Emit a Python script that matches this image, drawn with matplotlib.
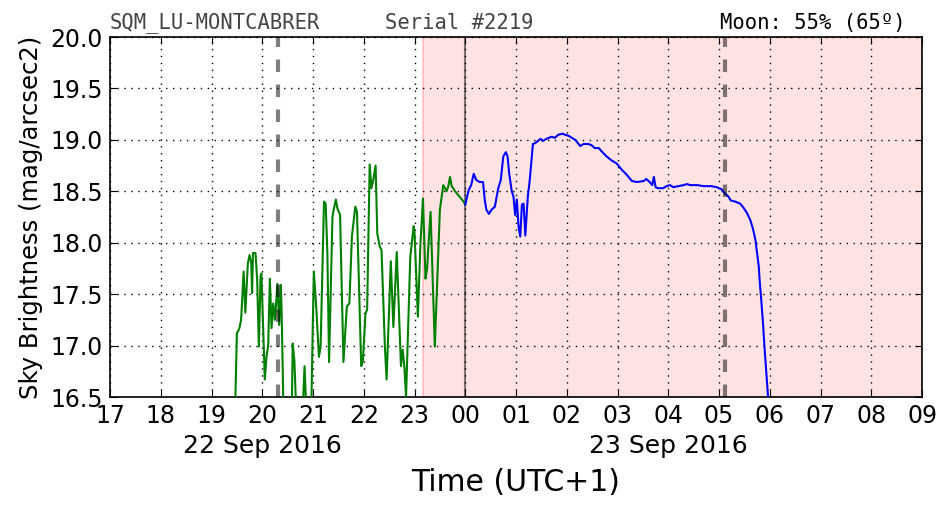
import matplotlib
matplotlib.use("Agg")
import matplotlib.pyplot as plt
import matplotlib.dates as mdates
import pandas as pd

# ---------------- data ----------------
green_times = [
    "2016-09-22 19:28", "2016-09-22 19:30", "2016-09-22 19:32", "2016-09-22 19:33", "2016-09-22 19:35",
    "2016-09-22 19:38", "2016-09-22 19:40", "2016-09-22 19:43", "2016-09-22 19:45", "2016-09-22 19:47",
    "2016-09-22 19:48", "2016-09-22 19:49", "2016-09-22 19:52", "2016-09-22 19:54", "2016-09-22 19:56",
    "2016-09-22 19:58", "2016-09-22 19:59", "2016-09-22 20:00", "2016-09-22 20:03", "2016-09-22 20:05",
    "2016-09-22 20:07", "2016-09-22 20:09", "2016-09-22 20:11", "2016-09-22 20:13", "2016-09-22 20:15",
    "2016-09-22 20:18", "2016-09-22 20:20", "2016-09-22 20:22", "2016-09-22 20:23", "2016-09-22 20:25",
    "2016-09-22 20:35", "2016-09-22 20:36", "2016-09-22 20:38", "2016-09-22 20:40", "2016-09-22 20:48",
    "2016-09-22 20:50", "2016-09-22 20:52", "2016-09-22 20:58", "2016-09-22 21:00", "2016-09-22 21:01",
    "2016-09-22 21:04", "2016-09-22 21:07", "2016-09-22 21:09", "2016-09-22 21:13", "2016-09-22 21:15",
    "2016-09-22 21:17", "2016-09-22 21:19", "2016-09-22 21:23", "2016-09-22 21:24", "2016-09-22 21:27",
    "2016-09-22 21:29", "2016-09-22 21:32", "2016-09-22 21:36", "2016-09-22 21:40", "2016-09-22 21:43",
    "2016-09-22 21:46", "2016-09-22 21:50", "2016-09-22 21:52", "2016-09-22 21:57", "2016-09-22 21:59",
    "2016-09-22 22:02", "2016-09-22 22:04", "2016-09-22 22:07", "2016-09-22 22:09", "2016-09-22 22:11",
    "2016-09-22 22:14", "2016-09-22 22:16", "2016-09-22 22:19", "2016-09-22 22:21", "2016-09-22 22:25",
    "2016-09-22 22:27", "2016-09-22 22:32", "2016-09-22 22:35", "2016-09-22 22:39", "2016-09-22 22:44",
    "2016-09-22 22:46", "2016-09-22 22:48", "2016-09-22 22:50", "2016-09-22 22:55", "2016-09-22 22:59",
    "2016-09-22 23:00", "2016-09-22 23:04", "2016-09-22 23:07", "2016-09-22 23:10", "2016-09-22 23:13",
    "2016-09-22 23:15", "2016-09-22 23:16", "2016-09-22 23:19", "2016-09-22 23:24", "2016-09-22 23:30",
    "2016-09-22 23:34", "2016-09-22 23:38", "2016-09-22 23:40", "2016-09-22 23:42", "2016-09-22 23:44",
    "2016-09-22 23:48", "2016-09-22 23:52", "2016-09-22 23:58", "2016-09-23 00:00",
]
green_mag = [
    16.40, 17.12, 17.15, 17.17, 17.25,
    17.72, 17.32, 17.80, 17.88, 17.80,
    17.51, 17.90, 17.90, 17.64, 16.99,
    17.67, 17.70, 17.45, 16.67, 16.89,
    17.00, 17.65, 17.17, 17.41, 17.25,
    17.60, 17.20, 17.59, 17.30, 16.40,
    16.40, 17.02, 16.85, 16.40, 16.40,
    16.80, 16.40, 16.40, 17.30, 17.72,
    17.35, 16.89, 16.99, 18.40, 18.38,
    17.90, 16.84, 18.25, 18.30, 18.42,
    18.33, 18.27, 16.84, 17.38, 17.41,
    18.06, 18.35, 18.30, 16.80, 16.85,
    17.31, 17.35, 18.76, 18.53, 18.60,
    18.75, 18.09, 17.96, 17.93, 16.99,
    16.67, 17.82, 17.18, 17.91, 16.80,
    16.96, 16.80, 16.50, 17.86, 18.16,
    18.10, 17.28, 17.99, 18.43, 17.65,
    17.75, 17.91, 18.30, 16.99, 18.32,
    18.56, 18.50, 18.55, 18.64, 18.55,
    18.50, 18.46, 18.40, 18.37,
]

blue_times = [
    "2016-09-23 00:00", "2016-09-23 00:04", "2016-09-23 00:07", "2016-09-23 00:10", "2016-09-23 00:13",
    "2016-09-23 00:17", "2016-09-23 00:21", "2016-09-23 00:23", "2016-09-23 00:25", "2016-09-23 00:28",
    "2016-09-23 00:31", "2016-09-23 00:35", "2016-09-23 00:39", "2016-09-23 00:42", "2016-09-23 00:45",
    "2016-09-23 00:48", "2016-09-23 00:50", "2016-09-23 00:52", "2016-09-23 00:55", "2016-09-23 00:57",
    "2016-09-23 00:59", "2016-09-23 01:01", "2016-09-23 01:03", "2016-09-23 01:05", "2016-09-23 01:07",
    "2016-09-23 01:09", "2016-09-23 01:11", "2016-09-23 01:14", "2016-09-23 01:16", "2016-09-23 01:18",
    "2016-09-23 01:20", "2016-09-23 01:23", "2016-09-23 01:26", "2016-09-23 01:29", "2016-09-23 01:32",
    "2016-09-23 01:36", "2016-09-23 01:42", "2016-09-23 01:46", "2016-09-23 01:50", "2016-09-23 01:55",
    "2016-09-23 01:58", "2016-09-23 02:02", "2016-09-23 02:06", "2016-09-23 02:10", "2016-09-23 02:14",
    "2016-09-23 02:16", "2016-09-23 02:20", "2016-09-23 02:25", "2016-09-23 02:29", "2016-09-23 02:33",
    "2016-09-23 02:38", "2016-09-23 02:41", "2016-09-23 02:47", "2016-09-23 02:53", "2016-09-23 02:59",
    "2016-09-23 03:05", "2016-09-23 03:11", "2016-09-23 03:17", "2016-09-23 03:23", "2016-09-23 03:31",
    "2016-09-23 03:34", "2016-09-23 03:38", "2016-09-23 03:41", "2016-09-23 03:43", "2016-09-23 03:45",
    "2016-09-23 03:48", "2016-09-23 03:54", "2016-09-23 03:58", "2016-09-23 04:02", "2016-09-23 04:06",
    "2016-09-23 04:12", "2016-09-23 04:18", "2016-09-23 04:22", "2016-09-23 04:26", "2016-09-23 04:34",
    "2016-09-23 04:42", "2016-09-23 04:51", "2016-09-23 04:57", "2016-09-23 05:03", "2016-09-23 05:07",
    "2016-09-23 05:11", "2016-09-23 05:14", "2016-09-23 05:19", "2016-09-23 05:25", "2016-09-23 05:29",
    "2016-09-23 05:33", "2016-09-23 05:37", "2016-09-23 05:40", "2016-09-23 05:43", "2016-09-23 05:45",
    "2016-09-23 05:47", "2016-09-23 05:48", "2016-09-23 05:50", "2016-09-23 05:52", "2016-09-23 05:54",
    "2016-09-23 05:56", "2016-09-23 05:58", "2016-09-23 06:00",
]
blue_mag = [
    18.37, 18.51, 18.56, 18.67, 18.61,
    18.59, 18.59, 18.42, 18.32, 18.28,
    18.32, 18.35, 18.53, 18.61, 18.84,
    18.88, 18.84, 18.67, 18.50, 18.45,
    18.27, 18.42, 18.16, 18.06, 18.37,
    18.38, 18.07, 18.45, 18.59, 18.77,
    18.96, 18.97, 18.99, 19.01, 18.99,
    19.01, 19.03, 19.02, 19.05, 19.06,
    19.05, 19.04, 19.02, 19.00, 18.96,
    18.94, 18.96, 18.96, 18.95, 18.92,
    18.92, 18.89, 18.84, 18.80, 18.77,
    18.71, 18.66, 18.60, 18.59, 18.60,
    18.62, 18.59, 18.56, 18.64, 18.54,
    18.53, 18.53, 18.55, 18.56, 18.54,
    18.55, 18.56, 18.57, 18.56, 18.56,
    18.55, 18.55, 18.54, 18.52, 18.48,
    18.45, 18.41, 18.40, 18.38, 18.34,
    18.29, 18.22, 18.14, 18.03, 17.90,
    17.77, 17.64, 17.44, 17.22, 16.96,
    16.73, 16.50, 16.30,
]

x_start = "2016-09-22 17:00"
x_end = "2016-09-23 09:00"
twilight_lines = ["2016-09-22 20:19", "2016-09-23 05:07"]
night_start = "2016-09-22 23:10"
midnight = "2016-09-23 00:00"
date_labels = ["22 Sep 2016", "23 Sep 2016"]
date_label_pos = ["2016-09-22 20:00", "2016-09-23 04:00"]
y_ticks = [16.5, 17.0, 17.5, 18.0, 18.5, 19.0, 19.5, 20.0]

# ---------------- plot ----------------
fig = plt.figure(figsize=(9.52, 5.12), dpi=100)
ax = fig.add_axes([110 / 952, 1 - 397 / 512, 812 / 952, 360 / 512])

t0, t1 = pd.Timestamp(x_start), pd.Timestamp(x_end)
ax.axvspan(pd.Timestamp(night_start), t1, facecolor=(1, 0, 0, 0.11),
           edgecolor=(1, 0, 0, 0.18), linewidth=1.5, zorder=0)

ax.plot(pd.to_datetime(green_times), green_mag, color="green", lw=1.5, zorder=3)
ax.plot(pd.to_datetime(blue_times), blue_mag, color="blue", lw=1.5, zorder=3)

for t in twilight_lines:
    ax.axvline(pd.Timestamp(t), color="k", alpha=0.5, lw=3, ls=(0, (3, 3)), zorder=4)
ax.axvline(pd.Timestamp(midnight), color="k", alpha=0.5, lw=1.5, zorder=2)

ax.set_xlim(t0, t1)
ax.set_ylim(16.5, 20.0)
ax.xaxis.set_major_locator(mdates.HourLocator())
ax.xaxis.set_major_formatter(mdates.DateFormatter("%H"))
ax.set_yticks(y_ticks)
ax.set_yticklabels([f"{v:.1f}" for v in y_ticks])
ax.grid(True, color="k", ls=(0, (1, 4)), lw=1.0)
ax.tick_params(direction="in", top=True, right=True, labelsize=17, length=5, pad=5)
for s in ax.spines.values():
    s.set_linewidth(1.2)

ax.set_ylabel("Sky Brightness (mag/arcsec2)", fontsize=17.5, labelpad=5)
ax.set_xlabel("Time (UTC+1)", fontsize=21.5, labelpad=29)

for lbl, pos in zip(date_labels, date_label_pos):
    ax.text(pd.Timestamp(pos), -0.135, lbl, transform=ax.get_xaxis_transform(),
            ha="center", va="center", fontsize=18)

ax.text(0.0, 1.012, "SQM_LU-MONTCABRER", transform=ax.transAxes, ha="left", va="bottom",
        fontsize=14.8, family="DejaVu Sans Mono", color="#444444")
ax.text(0.339, 1.012, "Serial #2219", transform=ax.transAxes, ha="left", va="bottom",
        fontsize=14.8, family="DejaVu Sans Mono", color="#444444")
ax.text(0.98, 1.012, "Moon: 55% (65º)", transform=ax.transAxes, ha="right", va="bottom",
        fontsize=14.8, family="DejaVu Sans Mono", color="black")

fig.savefig("out.png", dpi=100)
